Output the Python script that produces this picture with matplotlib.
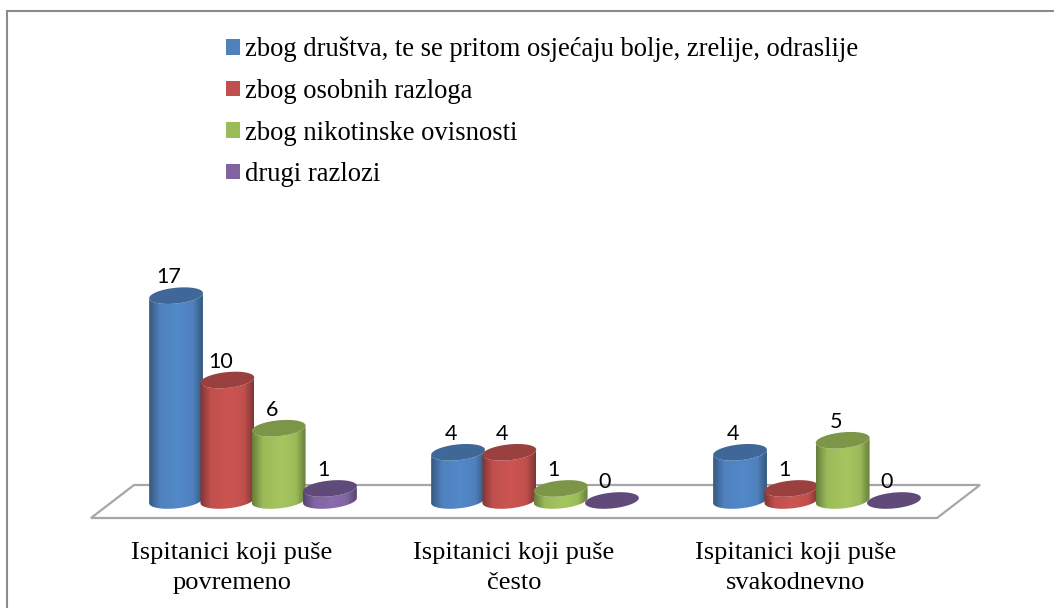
import numpy as np
import matplotlib
matplotlib.use("Agg")
import matplotlib.pyplot as plt
from matplotlib.patches import Patch, Polygon
from matplotlib.colors import LinearSegmentedColormap

categories = ["Ispitanici koji puše\npovremeno", "Ispitanici koji puše\nčesto", "Ispitanici koji puše\nsvakodnevno"]
series_names = ["zbog društva, te se pritom osjećaju bolje, zrelije, odraslije",
                "zbog osobnih razloga",
                "zbog nikotinske ovisnosti",
                "drugi razlozi"]
drustvo = [17, 4, 4]
osobni = [10, 4, 1]
nikotin = [6, 1, 5]
drugi = [1, 0, 0]
series_values = [drustvo, osobni, nikotin, drugi]

colors = ["#4F81BD", "#C0504D", "#9BBB59", "#8064A2"]
light_colors = ["#5289C9", "#CC5552", "#A5C65F", "#8A6CAE"]
edge_colors = ["#35587F", "#7F3533", "#677D3B", "#56436D"]
top_colors = ["#3F6797", "#9A403E", "#7C9647", "#5F4A79"]

W, H = 1054, 608
PX_PER_UNIT = 12.05   # vertical pixels for one respondent
PX_PER_CAT = 282.0    # horizontal pixels between groups
BASE_X = 253.0
BASE_Y = 500.5
BAR_STEP = 51.3 / PX_PER_CAT
RX, RY = 27.0, 8.0    # cylinder ellipse radii in pixels
TILT = np.radians(5)

fig = plt.figure(figsize=(W / 100, H / 100), dpi=100)
ax = fig.add_axes([0, 0, 1, 1])
ax.axis("off")


def sx(px):
    return (px - BASE_X) / PX_PER_CAT


def sy(py):
    return (BASE_Y - py) / PX_PER_UNIT


def ellipse_pts(x, v, t):
    # ellipse around a data point, radii in pixels, tilted up to the right
    dx = RX * np.cos(t) * np.cos(TILT) + RY * np.sin(t) * np.sin(TILT)
    dy = RX * np.cos(t) * np.sin(TILT) + RY * np.sin(t) * np.cos(TILT)
    return x + dx / PX_PER_CAT, v + dy / PX_PER_UNIT


def draw_cylinder(x, v, j, z):
    t = np.linspace(0, 2 * np.pi, 80)
    tx, ty = ellipse_pts(x, v, t)
    if v > 0:
        low = np.linspace(np.pi, 2 * np.pi, 40)
        bx, by = ellipse_pts(x, 0, low)
        hx, hy = ellipse_pts(x, v, low[::-1])
        verts = np.column_stack([np.r_[bx, hx], np.r_[by, hy]])
        clip = Polygon(verts, closed=True, transform=ax.transData, fc="none", ec="none")
        ax.add_patch(clip)
        cmap = LinearSegmentedColormap.from_list(
            "c", [(0, edge_colors[j]), (0.2, colors[j]), (0.55, light_colors[j]),
                  (0.82, colors[j]), (1, edge_colors[j])], N=128)
        grad = np.linspace(0, 1, 128).reshape(1, -1)
        im = ax.imshow(grad, cmap=cmap, aspect="auto", zorder=z, interpolation="bilinear",
                       extent=[bx.min(), bx.max(), by.min(), hy.max()])
        im.set_clip_path(clip)
    ax.add_patch(Polygon(np.column_stack([tx, ty]), closed=True, fc=top_colors[j], ec="none", zorder=z + 0.1))


# chart frame, the right and bottom edges run off the picture
ax.add_patch(Polygon([[sx(7), sy(H + 5)], [sx(7), sy(11)], [sx(W + 5), sy(11)], [sx(W + 5), sy(H + 5)]],
                     closed=True, fc="white", ec="#8C8C8C", lw=1.5, zorder=0))

# floor
ax.add_patch(Polygon([[sx(91), sy(518)], [sx(134), sy(485)], [sx(980), sy(485)], [sx(937), sy(518)]],
                     closed=True, fc="white", ec="#A6A6A6", lw=1.6, zorder=1))

cats = np.arange(len(categories))
for j, vals in enumerate(series_values):
    for i, v in zip(cats, vals):
        x = i + (j - 1.5) * BAR_STEP
        draw_cylinder(x, v, j, 2 + j)
        ax.annotate(str(v), (x, v), xytext=(-5, 6), textcoords="offset points",
                    ha="center", va="bottom", fontsize=15.5, family="Lato", color="black", zorder=10)

for i, c in zip(cats, categories):
    ax.text(i - 21 / PX_PER_CAT, sy(568), c, ha="center", va="center", fontsize=19,
            family="Liberation Serif", linespacing=1.45, color="black", zorder=10)

handles = [Patch(fc=c, ec="none") for c in colors]
ax.legend(handles, series_names, loc="upper left", bbox_to_anchor=(226 / W, 1 - 37 / H),
          frameon=False, prop={"family": "Liberation Serif", "size": 19.2},
          handlelength=0.52, handleheight=0.52, handletextpad=0.19, labelspacing=0.62,
          borderpad=0, borderaxespad=0)

ax.set_xlim(sx(0), sx(W))
ax.set_ylim(sy(H), sy(0))
fig.savefig("out.png", dpi=100)
plt.close(fig)
